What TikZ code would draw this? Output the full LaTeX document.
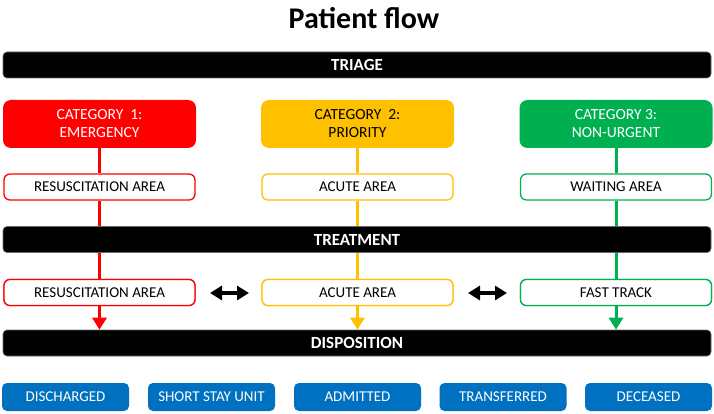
\documentclass[tikz,border=0pt]{standalone}
\usepackage{fontspec}
\setmainfont{Carlito}
\usetikzlibrary{arrows.meta}
\definecolor{cred}{HTML}{FF0000}
\definecolor{cyel}{HTML}{FFC000}
\definecolor{cgrn}{HTML}{00B050}
\definecolor{cblu}{HTML}{0070C0}
\begin{document}
\begin{tikzpicture}[x=1pt,y=-1pt,
  bar/.style={fill=black, draw=black!60, line width=0.6pt, rounded corners=4pt, minimum width=708pt, minimum height=26pt, inner sep=0pt, text=white, font=\bfseries\fontsize{17}{19}\selectfont},
  cat/.style={fill=#1, draw=none, rounded corners=8pt, minimum width=193pt, minimum height=48pt, inner sep=0pt, align=center, font=\fontsize{15.5}{18}\selectfont},
  area/.style={draw=#1, line width=1.3pt, fill=white, rounded corners=6pt, minimum width=191pt, minimum height=26pt, inner sep=0pt, font=\fontsize{15}{17}\selectfont},
  outcome/.style={fill=cblu, rounded corners=5pt, minimum width=127pt, minimum height=28pt, inner sep=0pt, text=white, font=\fontsize{15}{17}\selectfont},
  flow/.style={line width=3pt, draw=#1},
  flowarrow/.style={line width=3pt, draw=#1, -{Triangle[length=12pt,width=14pt]}},
  swap/.style={line width=4pt, {Triangle[length=12pt,width=14pt]}-{Triangle[length=12pt,width=14pt]}}
]
\useasboundingbox (0,0) rectangle (714,414);

\node[font=\bfseries\fontsize{30}{33}\selectfont] (title) at (364,18) {Patient flow};

% category boxes
\node[cat=cred, text=white] (c1) at (99.5,124) {CATEGORY\ \ 1:\\EMERGENCY};
\node[cat=cyel, text=black] (c2) at (357.5,124) {CATEGORY\ \ 2:\\PRIORITY};
\node[cat=cgrn, text=white] (c3) at (616,124) {CATEGORY 3:\\NON-URGENT};

% area boxes row 1
\node[area=cred] (a1) at (99.5,187) {RESUSCITATION AREA};
\node[area=cyel] (a2) at (357.5,187) {ACUTE AREA};
\node[area=cgrn] (a3) at (616,187) {WAITING AREA};

% area boxes row 2
\node[area=cred] (b1) at (99.5,292.5) {RESUSCITATION AREA};
\node[area=cyel] (b2) at (357.5,292.5) {ACUTE AREA};
\node[area=cgrn] (b3) at (616,292.5) {FAST TRACK};

% connectors (behind bars)
\draw[flow=cred] (c1.south) -- (a1.north);
\draw[flow=cyel] (c2.south) -- (a2.north);
\draw[flow=cgrn] (c3.south) -- (a3.north);
\draw[flow=cred] (a1.south) -- (b1.north);
\draw[flow=cyel] (a2.south) -- (b2.north);
\draw[flow=cgrn] (a3.south) -- (b3.north);

% bars
\node[bar] (triage) at (357,65) {TRIAGE};
\node[bar] (treat) at (357,239.5) {TREATMENT};
\node[bar] (disp) at (357,343) {DISPOSITION};

% redraw row 2 boxes on top of lines
\node[area=cred] at (b1) {RESUSCITATION AREA};
\node[area=cyel] at (b2) {ACUTE AREA};
\node[area=cgrn] at (b3) {FAST TRACK};

\draw[flowarrow=cred] (b1.south) -- (b1.south |- disp.north);
\draw[flowarrow=cyel] (b2.south) -- (b2.south |- disp.north);
\draw[flowarrow=cgrn] (b3.south) -- (b3.south |- disp.north);

% swap arrows
\coordinate (s1a) at (210,293);
\coordinate (s1b) at (249,293);
\coordinate (s2a) at (468,293);
\coordinate (s2b) at (507,293);
\draw[swap] (s1a) -- (s1b);
\draw[swap] (s2a) -- (s2b);

% outcomes
\node[outcome] (o1) at (65.5,397) {DISCHARGED};
\node[outcome] (o2) at (211.5,397) {SHORT STAY UNIT};
\node[outcome] (o3) at (357.5,397) {ADMITTED};
\node[outcome] (o4) at (503,397) {TRANSFERRED};
\node[outcome] (o5) at (648.5,397) {DECEASED};
\end{tikzpicture}
\end{document}
